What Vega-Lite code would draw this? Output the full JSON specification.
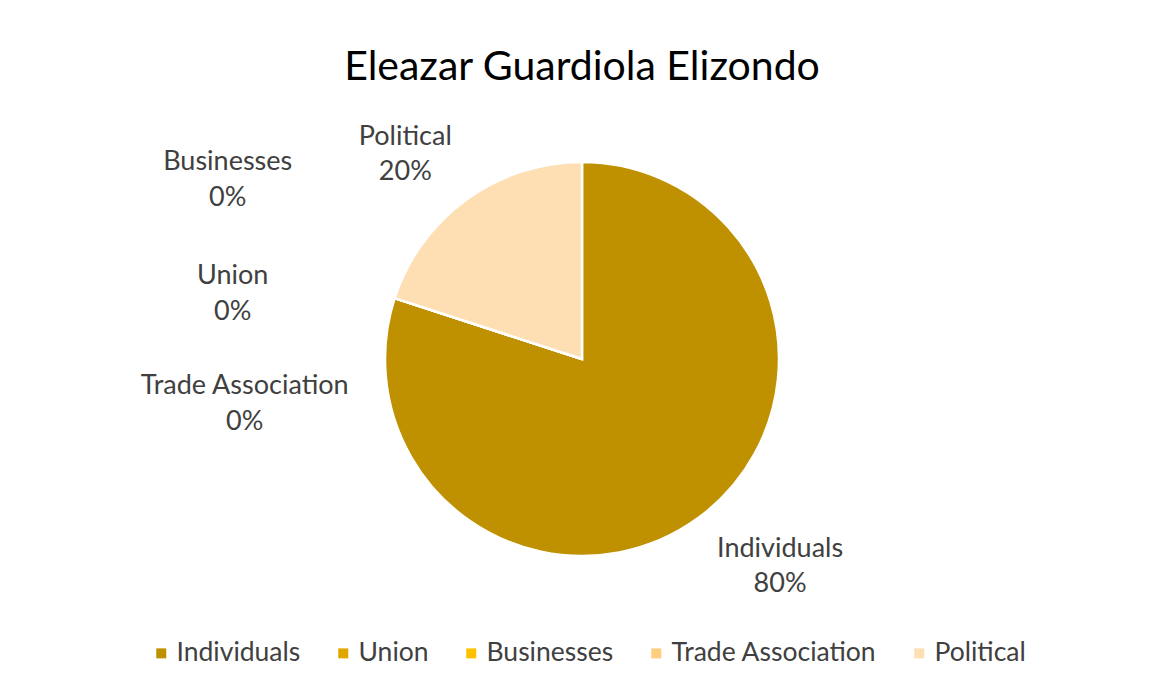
{
  "$schema": "https://vega.github.io/schema/vega-lite/v6.json",
  "autosize": "none",
  "width": 1100,
  "height": 518,
  "padding": {"left": 32, "right": 19, "top": 100, "bottom": 78},
  "background": "white",
  "title": {
    "text": "Eleazar Guardiola Elizondo",
    "font": "Lato",
    "fontSize": 41,
    "fontWeight": "normal",
    "color": "#000000",
    "anchor": "middle",
    "frame": "group",
    "offset": 20,
    "dy": 111
  },
  "data": {
    "values": [
      {"category": "Individuals", "share": 0.8, "order": 1},
      {"category": "Union", "share": 0.0, "order": 2},
      {"category": "Businesses", "share": 0.0, "order": 3},
      {"category": "Trade Association", "share": 0.0, "order": 4},
      {"category": "Political", "share": 0.2, "order": 5}
    ]
  },
  "encoding": {
    "theta": {"field": "share", "type": "quantitative", "stack": true},
    "order": {"field": "order", "type": "quantitative"}
  },
  "layer": [
    {
      "mark": {"type": "arc", "outerRadius": 197, "stroke": "white", "strokeWidth": 2.5},
      "encoding": {
        "color": {
          "field": "category",
          "type": "nominal",
          "sort": ["Individuals", "Union", "Businesses", "Trade Association", "Political"],
          "scale": {
            "domain": ["Individuals", "Union", "Businesses", "Trade Association", "Political"],
            "range": ["#BF9000", "#DFA700", "#FFC000", "#FFCD80", "#FDDFB3"]
          },
          "legend": {
            "title": null,
            "orient": "none",
            "legendX": 116,
            "legendY": 540,
            "direction": "horizontal",
            "columns": 5,
            "symbolType": "square",
            "symbolSize": 100,
            "symbolStrokeWidth": 0,
            "labelFont": "Lato",
            "labelFontSize": 26.5,
            "labelColor": "#404040",
            "labelOffset": 2,
            "columnPadding": 29,
            "labelLimit": 400
          }
        }
      }
    },
    {
      "mark": {"type": "text", "radius": 286, "font": "Lato", "fontSize": 27, "color": "#404040", "dx": 30, "dy": -41},
      "encoding": {"text": {"condition": {"test": "datum.category === 'Individuals'", "field": "category"}, "value": ""}}
    },
    {
      "mark": {"type": "text", "radius": 286, "font": "Lato", "fontSize": 27, "color": "#404040", "dx": 30, "dy": -6},
      "encoding": {"text": {"condition": {"test": "datum.category === 'Individuals'", "field": "share", "format": ".0%"}, "value": ""}}
    },
    {
      "mark": {"type": "text", "radius": 270, "font": "Lato", "fontSize": 27, "color": "#404040", "dx": -18, "dy": -4},
      "encoding": {"text": {"condition": {"test": "datum.category === 'Political'", "field": "category"}, "value": ""}}
    },
    {
      "mark": {"type": "text", "radius": 270, "font": "Lato", "fontSize": 27, "color": "#404040", "dx": -18, "dy": 31},
      "encoding": {"text": {"condition": {"test": "datum.category === 'Political'", "field": "share", "format": ".0%"}, "value": ""}}
    },
    {
      "mark": {"type": "text", "radius": 300, "font": "Lato", "fontSize": 27, "color": "#404040", "dx": -69, "dy": -104},
      "encoding": {"text": {"condition": {"test": "datum.category === 'Businesses'", "field": "category"}, "value": ""}}
    },
    {
      "mark": {"type": "text", "radius": 300, "font": "Lato", "fontSize": 27, "color": "#404040", "dx": -69, "dy": -68},
      "encoding": {"text": {"condition": {"test": "datum.category === 'Businesses'", "field": "share", "format": ".0%"}, "value": ""}}
    },
    {
      "mark": {"type": "text", "radius": 300, "font": "Lato", "fontSize": 27, "color": "#404040", "dx": -64, "dy": 10},
      "encoding": {"text": {"condition": {"test": "datum.category === 'Union'", "field": "category"}, "value": ""}}
    },
    {
      "mark": {"type": "text", "radius": 300, "font": "Lato", "fontSize": 27, "color": "#404040", "dx": -64, "dy": 46},
      "encoding": {"text": {"condition": {"test": "datum.category === 'Union'", "field": "share", "format": ".0%"}, "value": ""}}
    },
    {
      "mark": {"type": "text", "radius": 300, "font": "Lato", "fontSize": 27, "color": "#404040", "dx": -52, "dy": 120},
      "encoding": {"text": {"condition": {"test": "datum.category === 'Trade Association'", "field": "category"}, "value": ""}}
    },
    {
      "mark": {"type": "text", "radius": 300, "font": "Lato", "fontSize": 27, "color": "#404040", "dx": -52, "dy": 156},
      "encoding": {"text": {"condition": {"test": "datum.category === 'Trade Association'", "field": "share", "format": ".0%"}, "value": ""}}
    }
  ],
  "config": {"view": {"stroke": null}}
}
